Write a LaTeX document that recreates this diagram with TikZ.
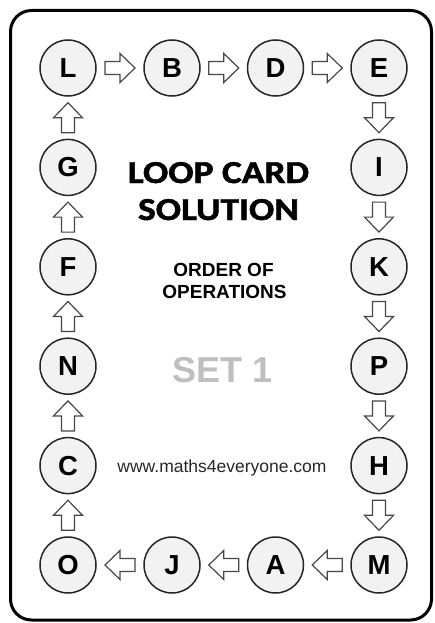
\documentclass[tikz,border=0pt]{standalone}
\usepackage{fontspec}
\setmainfont{Liberation Sans}
\newfontfamily\carlito{Carlito}[BoldFeatures={FakeBold=1.5}]
\begin{document}
\begin{tikzpicture}[x=1pt,y=-1pt,
  card/.style={draw=black,line width=3pt,rounded corners=21pt},
  letter/.style={circle,draw=black!85,fill=black!5,line width=1.5pt,minimum size=56pt,inner sep=0pt,font=\fontsize{27.5}{27.5}\selectfont\bfseries},
  arrowline/.style={draw=black!72,fill=white,line width=1.2pt,line join=miter},
  barrow/.pic={\path[arrowline] (-15,-6.5) -- (0,-6.5) -- (0,-14.5) -- (15,0) -- (0,14.5) -- (0,6.5) -- (-15,6.5) -- cycle;},
  title/.style={font=\carlito\fontsize{32}{32}\selectfont\bfseries,anchor=base,inner sep=0pt,xscale=1.17},
  sub/.style={font=\fontsize{19}{19}\selectfont\bfseries,anchor=base,inner sep=0pt},
]
\useasboundingbox (0,0) rectangle (434,623);
\draw[card] (10.5,10.5) rectangle (431.5,620);
% top row
\node[letter] (L) at (68,68) {L};
\node[letter] (B) at (172,68) {B};
\node[letter] (D) at (275.5,68) {D};
\node[letter] (E) at (379,68) {E};
% right column
\node[letter] (I) at (379,167.4) {I};
\node[letter] (K) at (379,266.8) {K};
\node[letter] (P) at (379,366.2) {P};
\node[letter] (H) at (379,465.6) {H};
\node[letter] (M) at (379,565) {M};
% bottom row
\node[letter] (A) at (275.5,565) {A};
\node[letter] (J) at (172,565) {J};
\node[letter] (O) at (68,565) {O};
% left column
\node[letter] (C) at (68,465.6) {C};
\node[letter] (N) at (68,366.2) {N};
\node[letter] (F) at (68,266.8) {F};
\node[letter] (G) at (68,167.4) {G};
% arrows
\foreach \a/\b in {L/B,B/D,D/E,E/I,I/K,K/P,P/H,H/M,M/A,A/J,J/O,O/C,C/N,N/F,F/G,G/L}
  \path (\a) -- pic[midway,sloped,allow upside down]{barrow} (\b);
% texts
\node[title] (t1) at (218.5,183) {LOOP CARD};
\node[title] (t2) at (218.5,220) {SOLUTION};
\node[sub] (s1) at (223.5,276) {ORDER OF};
\node[sub] (s2) at (224.5,298) {OPERATIONS};
\node[font=\fontsize{36}{36}\selectfont\bfseries,text=black!25,anchor=base,inner sep=0pt] (set) at (222.5,382) {SET 1};
\node[font=\fontsize{17.5}{17.5}\selectfont,text=black!85,anchor=base,inner sep=0pt] (www) at (222,472) {www.maths4everyone.com};
\end{tikzpicture}
\end{document}
